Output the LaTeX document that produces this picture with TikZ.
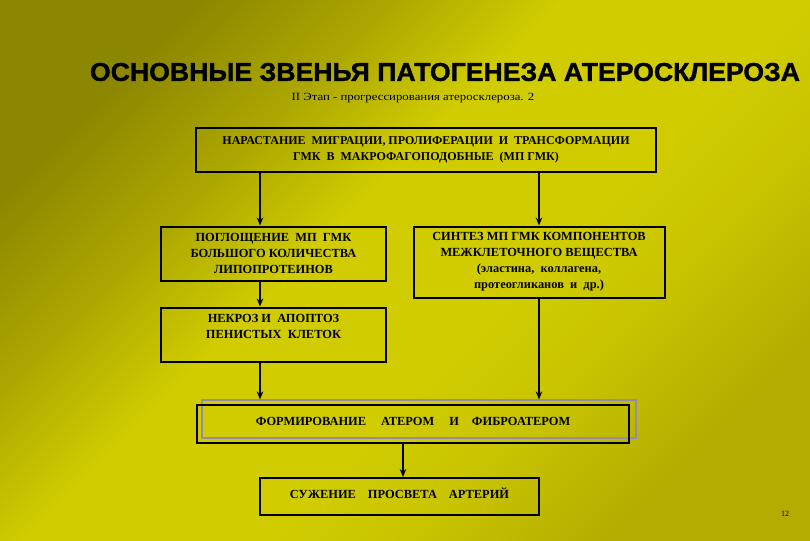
\documentclass[tikz,border=0pt]{standalone}
\usepackage{fontspec}
\usepackage{graphicx}
\setmainfont{Liberation Serif}
\newfontfamily\titlefont{Liberation Sans}[BoldFeatures={FakeBold=1.2}]
\usetikzlibrary{arrows.meta, positioning}
\definecolor{bgdark}{RGB}{140,135,0}
\definecolor{bgolive}{RGB}{172,167,0}
\definecolor{bglight}{RGB}{208,204,0}
\definecolor{bgmid}{RGB}{200,195,0}
\definecolor{bgend}{RGB}{180,172,0}
\definecolor{framegray}{RGB}{150,140,170}
\pgfdeclareverticalshading{slide}{100bp}{color(0bp)=(bgend); color(25bp)=(bgend); color(35bp)=(bgmid); color(43bp)=(bglight); color(56bp)=(bglight); color(65bp)=(bgolive); color(75bp)=(bgdark); color(100bp)=(bgdark)}
\tikzstyle{stage} = [rectangle, draw=black, line width=2pt, align=center, inner sep=0pt, font=\bfseries\fontsize{12.4}{16}\selectfont]
\tikzstyle{arrow} = [line width=1.2pt,-{Stealth[length=8pt,width=6.5pt]}]

\begin{document}
\begin{tikzpicture}[x=1pt, y=-1pt]
        % background
        \shade[shading=slide, shading angle=45] (0,0) rectangle (810,540);
        \useasboundingbox (0,0) rectangle (810,540);

        \node[font=\titlefont\bfseries] (title) at (445,72) {\resizebox{710pt}{18pt}{ОСНОВНЫЕ ЗВЕНЬЯ ПАТОГЕНЕЗА АТЕРОСКЛЕРОЗА}};
        \node[font=\fontsize{10}{12}\selectfont] (subtitle) at (413,98) {\scalebox{1.28}[1.1]{II Этап - прогрессирования атеросклероза. 2}};

        \node[stage, font=\bfseries\fontsize{12}{16}\selectfont, minimum width=460pt, minimum height=44pt] (growth) at (426,150) {НАРАСТАНИЕ\ \ МИГРАЦИИ, ПРОЛИФЕРАЦИИ\ \ И\ \ ТРАНСФОРМАЦИИ\\ГМК\ \ В\ \ МАКРОФАГОПОДОБНЫЕ\ \ (МП ГМК)};
        \node[stage, minimum width=225pt, minimum height=54pt] (uptake) at (273.5,253.5) {ПОГЛОЩЕНИЕ\ \ МП\ \ ГМК\\БОЛЬШОГО КОЛИЧЕСТВА\\ЛИПОПРОТЕИНОВ};
        \node[stage, minimum width=251pt, minimum height=71pt] (synthesis) at (539,262) {СИНТЕЗ МП ГМК КОМПОНЕНТОВ\\МЕЖКЛЕТОЧНОГО ВЕЩЕСТВА\\(эластина,\ \ коллагена,\\протеогликанов\ \ и\ \ др.)};
        \node[stage, minimum width=225pt, minimum height=54pt] (necrosis) at (273.5,334.5) {НЕКРОЗ И\ \ АПОПТОЗ\\ПЕНИСТЫХ\ \ КЛЕТОК\\\mbox{}};
        \node[draw=framegray, line width=1.2pt, minimum width=434pt, minimum height=38pt] (frame) at (419,419) {};
        \node[stage, minimum width=432pt, minimum height=38pt] (plaque) at (413,424) {\raisebox{6pt}{ФОРМИРОВАНИЕ\hspace{15pt}АТЕРОМ\hspace{15pt}И\hspace{13pt}ФИБРОАТЕРОМ}};
        \node[stage, minimum width=279pt, minimum height=37pt] (narrowing) at (399.5,496.5) {\raisebox{6pt}{СУЖЕНИЕ\hspace{12pt}ПРОСВЕТА\hspace{12pt}АРТЕРИЙ}};
        \node[font=\fontsize{8}{9}\selectfont] (page) at (785,514) {12};

        \coordinate (leftline) at (260,0);
        \coordinate (midline) at (403,0);

        \draw[arrow] (growth.south -| leftline) -- (uptake.north -| leftline);
        \draw[arrow] (growth.south -| synthesis) -- (synthesis.north);
        \draw[arrow] (uptake.south -| leftline) -- (necrosis.north -| leftline);
        \draw[arrow] (necrosis.south -| leftline) -- (frame.north -| leftline);
        \draw[arrow] (synthesis.south) -- (frame.north -| synthesis);
        \draw[arrow] (plaque.south -| midline) -- (narrowing.north -| midline);
    \end{tikzpicture}
\end{document}
